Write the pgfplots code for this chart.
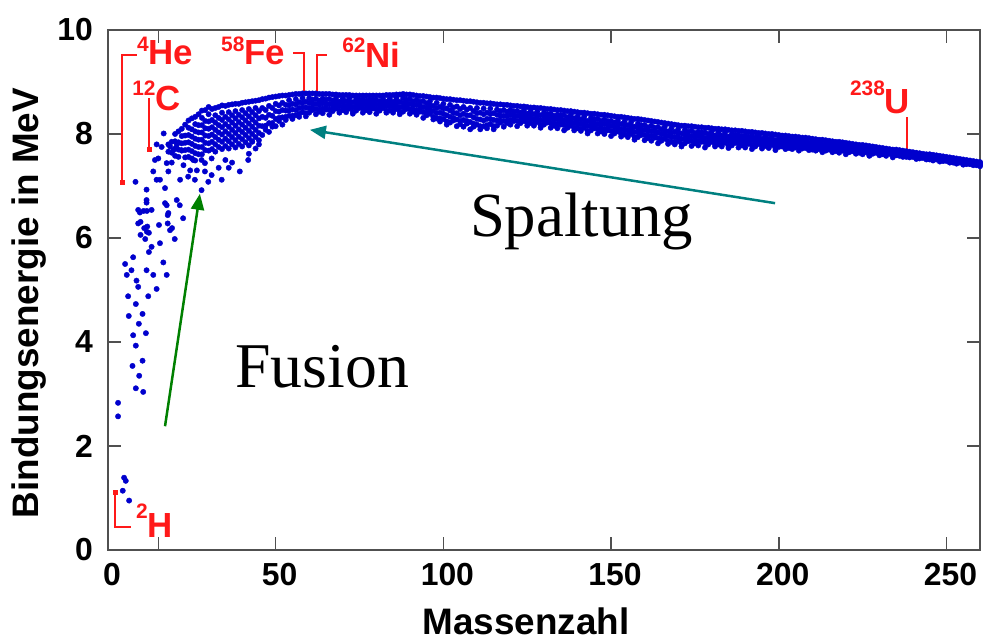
\documentclass[border=0pt]{standalone}
\usepackage{fontspec}
\setmainfont{Liberation Sans}
\newfontfamily\seriffont{Liberation Serif}
\usepackage{pgfplots}
\pgfplotsset{compat=1.18}
\usepackage{pgfplotstable}
\usetikzlibrary{arrows.meta}
\definecolor{dotblue}{RGB}{0,0,205}
\definecolor{lblred}{RGB}{255,25,25}
\definecolor{arrgreen}{RGB}{0,128,0}
\definecolor{arrteal}{RGB}{0,128,128}
\definecolor{framegray}{RGB}{80,80,80}
\newcommand{\tickfont}{\fontsize{32}{32}\selectfont\bfseries}
\newcommand{\lblfont}{\fontsize{37}{37}\selectfont\bfseries}
\newcommand{\nuc}[3]{{\fontsize{35}{35}\selectfont\bfseries\raisebox{#3}{\fontsize{21}{21}\selectfont #1}#2}}

\pgfplotstableread{
A y
3 2.83
3 2.57
4.8 1.39
5.3 1.33
4.4 1.14
6.3 0.95
8.3 4.73
6.2 4.50
10.3 4.54
9.2 4.35
7.5 4.13
11.3 4.17
8.3 3.93
10.3 3.64
7.3 3.54
9.3 3.35
8.3 3.11
10.5 3.04
11.5 6.68
17.5 6.63
21.4 6.63
9.5 6.49
10.6 6.52
11.6 6.52
17.8 6.44
22.4 6.38
9.0 6.28
17.8 6.28
10.8 6.19
11.6 6.12
12.2 6.10
18.5 6.15
9.7 6.06
11.1 5.98
15.5 5.90
19.9 5.98
13.0 5.83
12.2 5.73
7.5 5.63
5.1 5.50
16.5 5.53
7.0 5.38
5.6 5.29
11.5 5.38
13.5 5.29
17.5 5.29
8.5 5.18
9.0 5.06
14.5 5.02
6.0 4.88
12.0 4.88
8.2 7.08
11.5 6.93
16.6 8.01
14.0 7.50
15.0 7.53
17.5 7.44
18.5 7.76
20.5 7.79
19.5 7.69
21.9 7.69
25.4 7.50
27.9 7.50
28.9 7.44
30.9 7.53
33.9 7.12
39.3 7.28
41.8 7.50
13.5 7.28
15.5 7.12
18.0 7.28
21.5 7.12
23.9 7.18
25.9 7.12
29.9 7.08
30.9 7.21
28.9 7.28
27.9 6.92
14.5 7.12
17.0 6.96
20.5 6.73
11.5 6.73
9.0 6.54
13.0 6.54
17.0 6.67
18.0 6.48
9.7 6.31
11.7 6.22
15.2 6.25
19.1 6.19
36 7.35
37 7.45
33 7.35
35 7.50
24.5 7.30
26.5 7.30
22.5 7.40
19 7.45
16 7.75
14.5 7.80
42 7.62
44 7.72
43 7.85
45 7.80
18 7.80
18 7.66
19 7.85
19 7.64
20 8.00
20 7.86
20 7.72
20 7.58
21 8.05
21 7.84
21 7.70
21 7.56
22 8.10
22 7.96
22 7.82
22 7.68
23 8.18
23 7.97
23 7.83
23 7.69
23 7.55
24 8.26
24 8.12
24 7.98
24 7.84
24 7.70
24 7.56
25 8.30
25 8.09
25 7.95
25 7.81
25 7.67
25 7.53
26 8.33
26 8.19
26 8.05
26 7.91
26 7.77
26 7.63
26 7.49
27 8.38
27 8.17
27 8.03
27 7.89
27 7.75
27 7.61
28 8.45
28 8.31
28 8.17
28 8.03
28 7.89
28 7.75
28 7.61
29 8.46
29 8.25
29 8.11
29 7.97
29 7.83
29 7.69
30 8.52
30 8.38
30 8.24
30 8.10
30 7.96
30 7.82
30 7.68
31 8.48
31 8.27
31 8.13
31 7.99
31 7.85
31 7.71
32 8.50
32 8.36
32 8.22
32 8.08
32 7.94
32 7.80
32 7.66
33 8.52
33 8.31
33 8.17
33 8.03
33 7.89
33 7.75
34 8.55
34 8.41
34 8.27
34 8.13
34 7.99
34 7.85
34 7.71
35 8.54
35 8.33
35 8.19
35 8.05
35 7.91
35 7.77
36 8.56
36 8.42
36 8.28
36 8.14
36 8.00
36 7.86
36 7.72
37 8.57
37 8.36
37 8.22
37 8.08
37 7.94
37 7.80
38 8.58
38 8.44
38 8.30
38 8.16
38 8.02
38 7.88
38 7.74
39 8.58
39 8.37
39 8.23
39 8.09
39 7.95
39 7.81
40 8.60
40 8.46
40 8.32
40 8.18
40 8.04
40 7.90
40 7.76
41 8.61
41 8.40
41 8.26
41 8.12
41 7.98
41 7.84
42 8.62
42 8.48
42 8.34
42 8.20
42 8.06
42 7.92
42 7.78
43 8.63
43 8.42
43 8.28
43 8.14
43 8.00
43 7.86
44 8.64
44 8.50
44 8.36
44 8.22
44 8.08
44 7.94
45 8.65
45 8.44
45 8.30
45 8.16
45 8.02
45 7.88
}\lightdata

\pgfplotstableread{
A a b c d e
46 8.67 8.50 8.33 8.15 7.98
47 8.68 8.46 8.31 8.16 8.08
48 8.70 8.54 8.37 8.21 8.04
49 8.71 8.50 8.35 8.21 8.14
50 8.72 8.58 8.44 8.29 8.15
51 8.73 8.55 8.43 8.31 8.25
52 8.74 8.60 8.46 8.32 8.18
53 8.74 8.56 8.45 8.33 8.27
54 8.75 8.65 8.55 8.45 8.35
55 8.76 8.58 8.47 8.35 8.29
56 8.77 8.67 8.57 8.46 8.36
57 8.77 8.61 8.50 8.39 8.33
58 8.78 8.69 8.60 8.51 8.42
59 8.78 8.62 8.51 8.40 8.34
60 8.78 8.69 8.60 8.50 8.41
61 8.78 8.66 8.58 8.50 8.46
62 8.78 8.68 8.58 8.48 8.38
63 8.77 8.64 8.56 8.47 8.43
64 8.77 8.68 8.59 8.49 8.40
65 8.77 8.66 8.58 8.51 8.47
66 8.77 8.67 8.57 8.47 8.37
67 8.76 8.64 8.56 8.48 8.44
68 8.76 8.69 8.63 8.56 8.49
69 8.75 8.62 8.54 8.45 8.41
70 8.75 8.68 8.61 8.53 8.46
71 8.75 8.63 8.54 8.46 8.42
72 8.75 8.69 8.62 8.56 8.49
73 8.74 8.61 8.52 8.43 8.39
74 8.74 8.67 8.60 8.52 8.45
75 8.74 8.65 8.59 8.53 8.50
76 8.74 8.66 8.58 8.49 8.41
77 8.74 8.64 8.57 8.50 8.46
78 8.74 8.66 8.58 8.50 8.42
79 8.74 8.65 8.58 8.52 8.49
80 8.74 8.65 8.57 8.48 8.39
81 8.74 8.63 8.56 8.49 8.45
82 8.74 8.68 8.62 8.56 8.50
83 8.75 8.62 8.54 8.45 8.41
84 8.75 8.68 8.60 8.53 8.45
85 8.75 8.62 8.54 8.45 8.41
86 8.76 8.69 8.62 8.55 8.48
87 8.76 8.62 8.52 8.43 8.38
88 8.77 8.69 8.60 8.52 8.43
89 8.76 8.66 8.59 8.52 8.48
90 8.76 8.67 8.58 8.48 8.39
91 8.75 8.63 8.55 8.47 8.43
92 8.74 8.65 8.56 8.46 8.37
93 8.73 8.62 8.54 8.47 8.43
94 8.73 8.63 8.52 8.42 8.31
95 8.72 8.59 8.50 8.41 8.36
96 8.71 8.63 8.55 8.47 8.39
97 8.70 8.54 8.44 8.33 8.28
98 8.70 8.60 8.50 8.40 8.30
99 8.69 8.52 8.41 8.30 8.24
100 8.68 8.58 8.49 8.39 8.29
101 8.67 8.49 8.36 8.24 8.18
102 8.67 8.56 8.45 8.33 8.22
103 8.66 8.51 8.41 8.31 8.26
104 8.65 8.53 8.40 8.28 8.15
105 8.65 8.48 8.36 8.25 8.19
106 8.64 8.52 8.39 8.27 8.14
107 8.63 8.47 8.36 8.25 8.20
108 8.63 8.50 8.36 8.23 8.09
109 8.62 8.44 8.32 8.20 8.14
110 8.61 8.50 8.40 8.29 8.18
111 8.60 8.41 8.28 8.15 8.09
112 8.60 8.49 8.38 8.26 8.15
113 8.59 8.41 8.29 8.17 8.11
114 8.59 8.49 8.39 8.29 8.19
115 8.58 8.40 8.27 8.15 8.09
116 8.57 8.47 8.37 8.26 8.16
117 8.57 8.44 8.35 8.26 8.22
118 8.56 8.46 8.35 8.25 8.14
119 8.56 8.43 8.34 8.25 8.21
120 8.55 8.46 8.37 8.27 8.18
121 8.54 8.43 8.36 8.29 8.25
122 8.54 8.44 8.35 8.25 8.15
123 8.53 8.41 8.33 8.25 8.21
124 8.53 8.46 8.39 8.32 8.25
125 8.52 8.39 8.30 8.21 8.16
126 8.51 8.44 8.36 8.29 8.21
127 8.51 8.38 8.29 8.20 8.16
128 8.50 8.43 8.37 8.30 8.23
129 8.50 8.36 8.26 8.17 8.12
130 8.49 8.41 8.34 8.26 8.18
131 8.48 8.38 8.32 8.25 8.22
132 8.48 8.39 8.30 8.21 8.12
133 8.47 8.35 8.28 8.20 8.16
134 8.46 8.37 8.29 8.20 8.11
135 8.46 8.36 8.29 8.22 8.18
136 8.45 8.36 8.26 8.17 8.07
137 8.44 8.32 8.24 8.16 8.12
138 8.44 8.37 8.30 8.23 8.16
139 8.43 8.30 8.21 8.12 8.07
140 8.42 8.34 8.27 8.19 8.11
141 8.41 8.28 8.19 8.10 8.06
142 8.41 8.34 8.27 8.19 8.12
143 8.40 8.25 8.16 8.06 8.01
144 8.39 8.31 8.23 8.15 8.07
145 8.39 8.29 8.22 8.15 8.11
146 8.38 8.29 8.19 8.10 8.01
147 8.37 8.25 8.17 8.09 8.05
148 8.37 8.28 8.19 8.09 8.00
149 8.36 8.25 8.18 8.11 8.07
150 8.35 8.25 8.16 8.06 7.96
151 8.34 8.22 8.13 8.05 8.01
152 8.33 8.26 8.19 8.12 8.05
153 8.33 8.19 8.09 8.00 7.95
154 8.32 8.24 8.16 8.07 7.99
155 8.31 8.17 8.08 7.99 7.94
156 8.30 8.23 8.15 8.08 8.00
157 8.29 8.14 8.04 7.94 7.89
158 8.29 8.20 8.12 8.03 7.94
159 8.28 8.17 8.09 8.02 7.98
160 8.27 8.17 8.08 7.98 7.88
161 8.26 8.13 8.05 7.96 7.92
162 8.25 8.16 8.06 7.97 7.87
163 8.24 8.12 8.05 7.97 7.93
164 8.23 8.13 8.03 7.92 7.82
165 8.22 8.09 8.00 7.91 7.87
166 8.21 8.14 8.06 7.99 7.91
167 8.20 8.05 7.96 7.86 7.81
168 8.19 8.11 8.02 7.94 7.85
169 8.18 8.04 7.94 7.85 7.80
170 8.17 8.09 8.02 7.94 7.86
171 8.16 8.01 7.91 7.81 7.76
172 8.16 8.08 7.99 7.91 7.82
173 8.15 8.04 7.97 7.90 7.86
174 8.15 8.06 7.96 7.87 7.77
175 8.14 8.02 7.94 7.86 7.82
176 8.13 8.04 7.96 7.87 7.78
177 8.13 8.03 7.96 7.89 7.85
178 8.12 8.03 7.93 7.84 7.74
179 8.12 8.00 7.92 7.84 7.80
180 8.11 8.05 7.98 7.92 7.85
181 8.10 7.97 7.89 7.80 7.76
182 8.10 8.03 7.95 7.88 7.80
183 8.09 7.97 7.88 7.80 7.76
184 8.09 8.03 7.96 7.90 7.83
185 8.08 7.95 7.86 7.77 7.73
186 8.07 8.00 7.93 7.85 7.78
187 8.07 7.98 7.92 7.86 7.83
188 8.06 7.98 7.90 7.82 7.74
189 8.06 7.96 7.89 7.82 7.78
190 8.05 7.97 7.90 7.82 7.74
191 8.04 7.95 7.90 7.84 7.81
192 8.04 7.96 7.88 7.79 7.71
193 8.03 7.93 7.86 7.79 7.76
194 8.02 7.97 7.92 7.86 7.81
195 8.02 7.91 7.83 7.76 7.72
196 8.01 7.95 7.89 7.83 7.77
197 8.00 7.90 7.83 7.76 7.73
198 8.00 7.95 7.90 7.84 7.79
199 7.99 7.88 7.80 7.73 7.69
200 7.98 7.92 7.87 7.81 7.75
201 7.97 7.89 7.84 7.79 7.76
202 7.97 7.91 7.84 7.78 7.71
203 7.96 7.87 7.82 7.76 7.73
204 7.95 7.89 7.83 7.77 7.71
205 7.95 7.87 7.82 7.77 7.74
206 7.94 7.88 7.81 7.75 7.68
207 7.93 7.85 7.80 7.75 7.72
208 7.93 7.88 7.83 7.78 7.73
209 7.92 7.83 7.78 7.72 7.69
210 7.91 7.86 7.81 7.75 7.70
211 7.90 7.82 7.76 7.71 7.68
212 7.89 7.85 7.80 7.76 7.71
213 7.89 7.80 7.74 7.68 7.65
214 7.88 7.83 7.78 7.73 7.68
215 7.87 7.81 7.76 7.72 7.70
216 7.86 7.81 7.76 7.70 7.65
217 7.85 7.78 7.74 7.69 7.67
218 7.85 7.80 7.74 7.69 7.64
219 7.84 7.78 7.74 7.70 7.68
220 7.83 7.78 7.72 7.67 7.61
221 7.82 7.76 7.71 7.67 7.65
222 7.81 7.78 7.74 7.71 7.67
223 7.80 7.73 7.69 7.64 7.62
224 7.79 7.75 7.72 7.68 7.64
225 7.79 7.72 7.68 7.63 7.61
226 7.78 7.75 7.71 7.68 7.65
227 7.77 7.70 7.65 7.60 7.58
228 7.76 7.73 7.69 7.66 7.62
229 7.75 7.71 7.68 7.65 7.64
230 7.74 7.70 7.67 7.63 7.59
231 7.73 7.69 7.66 7.63 7.61
232 7.72 7.69 7.65 7.62 7.58
233 7.71 7.68 7.65 7.63 7.62
234 7.70 7.66 7.63 7.59 7.55
235 7.70 7.66 7.63 7.60 7.59
236 7.69 7.66 7.64 7.61 7.58
237 7.68 7.64 7.61 7.58 7.56
238 7.67 7.64 7.62 7.59 7.56
239 7.66 7.62 7.59 7.56 7.55
240 7.65 7.63 7.61 7.58 7.56
241 7.64 7.60 7.57 7.54 7.52
242 7.63 7.61 7.58 7.56 7.53
243 7.62 7.59 7.57 7.55 7.54
244 7.61 7.59 7.56 7.54 7.51
245 7.61 7.57 7.55 7.52 7.51
246 7.60 7.57 7.55 7.52 7.49
247 7.59 7.56 7.54 7.52 7.51
248 7.58 7.55 7.53 7.50 7.47
249 7.57 7.54 7.51 7.49 7.48
250 7.56 7.54 7.52 7.50 7.48
251 7.55 7.51 7.49 7.46 7.45
252 7.54 7.52 7.50 7.47 7.45
253 7.53 7.49 7.47 7.44 7.43
254 7.52 7.50 7.49 7.47 7.45
255 7.51 7.47 7.45 7.42 7.41
256 7.50 7.48 7.46 7.44 7.42
257 7.49 7.46 7.45 7.43 7.42
258 7.48 7.46 7.44 7.42 7.40
259 7.47 7.44 7.43 7.41 7.40
260 7.46 7.44 7.42 7.40 7.38
}\heavydata

\begin{document}
\begin{tikzpicture}
\begin{axis}[
  at={(0,0)}, anchor=south west,
  scale only axis, width=872bp, height=520bp,
  xmin=0, xmax=260, ymin=0, ymax=10,
  xtick={0,50,100,150,200,250}, ytick={0,2,4,6,8,10},
  extra x ticks={15}, extra x tick labels={},
  tick align=inside, major tick length=13bp,
  every tick/.style={framegray, line width=1.5bp},
  axis line style={framegray, line width=2bp},
  /pgf/number format/assume math mode=true,
  tick label style={font=\tickfont, inner sep=0pt},
  xticklabel style={anchor=north, yshift=-13bp, xshift=4bp},
  yticklabel style={anchor=east, xshift=-15bp},
  xlabel={Massenzahl}, ylabel={Bindungsenergie in MeV},
  every axis x label/.style={at={(axis description cs:0.4794,-0.163)}, anchor=base, font=\lblfont, inner sep=0pt},
  every axis y label/.style={at={(axis description cs:-0.0905,0.475)}, rotate=90, anchor=center, font=\lblfont, inner sep=0pt},
  blueset/.style={only marks, mark=*, mark size=2.7pt, color=dotblue},
]
\addplot[blueset] table[x=A, y=y] {\lightdata};
\addplot[blueset] table[x=A, y=a] {\heavydata};
\addplot[blueset] table[x=A, y=b] {\heavydata};
\addplot[blueset] table[x=A, y=c] {\heavydata};
\addplot[blueset] table[x=A, y=d] {\heavydata};
\addplot[blueset] table[x=A, y=e] {\heavydata};

% marker lines for the labelled nuclei
\draw[lblred, line width=2bp] (axis cs:2.1,1.12) -- (axis cs:2.1,0.45) -- (axis cs:7.0,0.45);
\draw[lblred, line width=2bp] (axis cs:4.3,7.08) -- (axis cs:4.3,9.52) -- (axis cs:8.6,9.52);
\draw[lblred, line width=2bp] (axis cs:12.2,7.70) -- (axis cs:12.2,8.69);
\draw[lblred, line width=2bp] (axis cs:58.4,8.81) -- (axis cs:58.4,9.56) -- (axis cs:55.2,9.56);
\draw[lblred, line width=2bp] (axis cs:62.3,8.81) -- (axis cs:62.3,9.52) -- (axis cs:65.3,9.52);
\draw[lblred, line width=2bp] (axis cs:238.2,7.58) -- (axis cs:238.2,8.33);
\addplot[only marks, mark=square*, mark size=2pt, color=lblred] coordinates {(2.1,1.12) (4.3,7.08) (12.2,7.70)};

\node[anchor=base west, inner sep=0pt, text=lblred] at (axis cs:8.3,0.25) {\nuc{2}{H}{19bp}};
\node[anchor=base west, inner sep=0pt, text=lblred] at (axis cs:8.6,9.33) {\nuc{4}{He}{13bp}};
\node[anchor=base west, inner sep=0pt, text=lblred] at (axis cs:7.2,8.46) {\nuc{12}{C}{15bp}};
\node[anchor=base west, inner sep=0pt, text=lblred] at (axis cs:33.7,9.33) {\nuc{58}{Fe}{13bp}};
\node[anchor=base west, inner sep=0pt, text=lblred] at (axis cs:69.8,9.27) {\nuc{62}{Ni}{15bp}};
\node[anchor=base west, inner sep=0pt, text=lblred] at (axis cs:221.2,8.40) {\nuc{238}{U}{18bp}};

% arrows and captions
\draw[arrgreen, line width=2.5bp, -{Triangle[length=16bp, width=13bp]}] (axis cs:17.0,2.38) -- (axis cs:27.4,6.85);
\draw[arrteal, line width=2.5bp, -{Triangle[length=16bp, width=13bp]}] (axis cs:198.9,6.67) -- (axis cs:60.2,8.08);
\node[anchor=base west, inner sep=0pt, font={\seriffont\fontsize{64}{64}\selectfont}] at (axis cs:37.9,3.12) {Fusion};
\node[anchor=base west, inner sep=0pt, font={\seriffont\fontsize{63}{63}\selectfont}] at (axis cs:107.9,6.02) {Spaltung};
\end{axis}
\pgfresetboundingbox
\path[use as bounding box] (-108bp,-93bp) rectangle (876bp,550bp);
\end{tikzpicture}
\end{document}
